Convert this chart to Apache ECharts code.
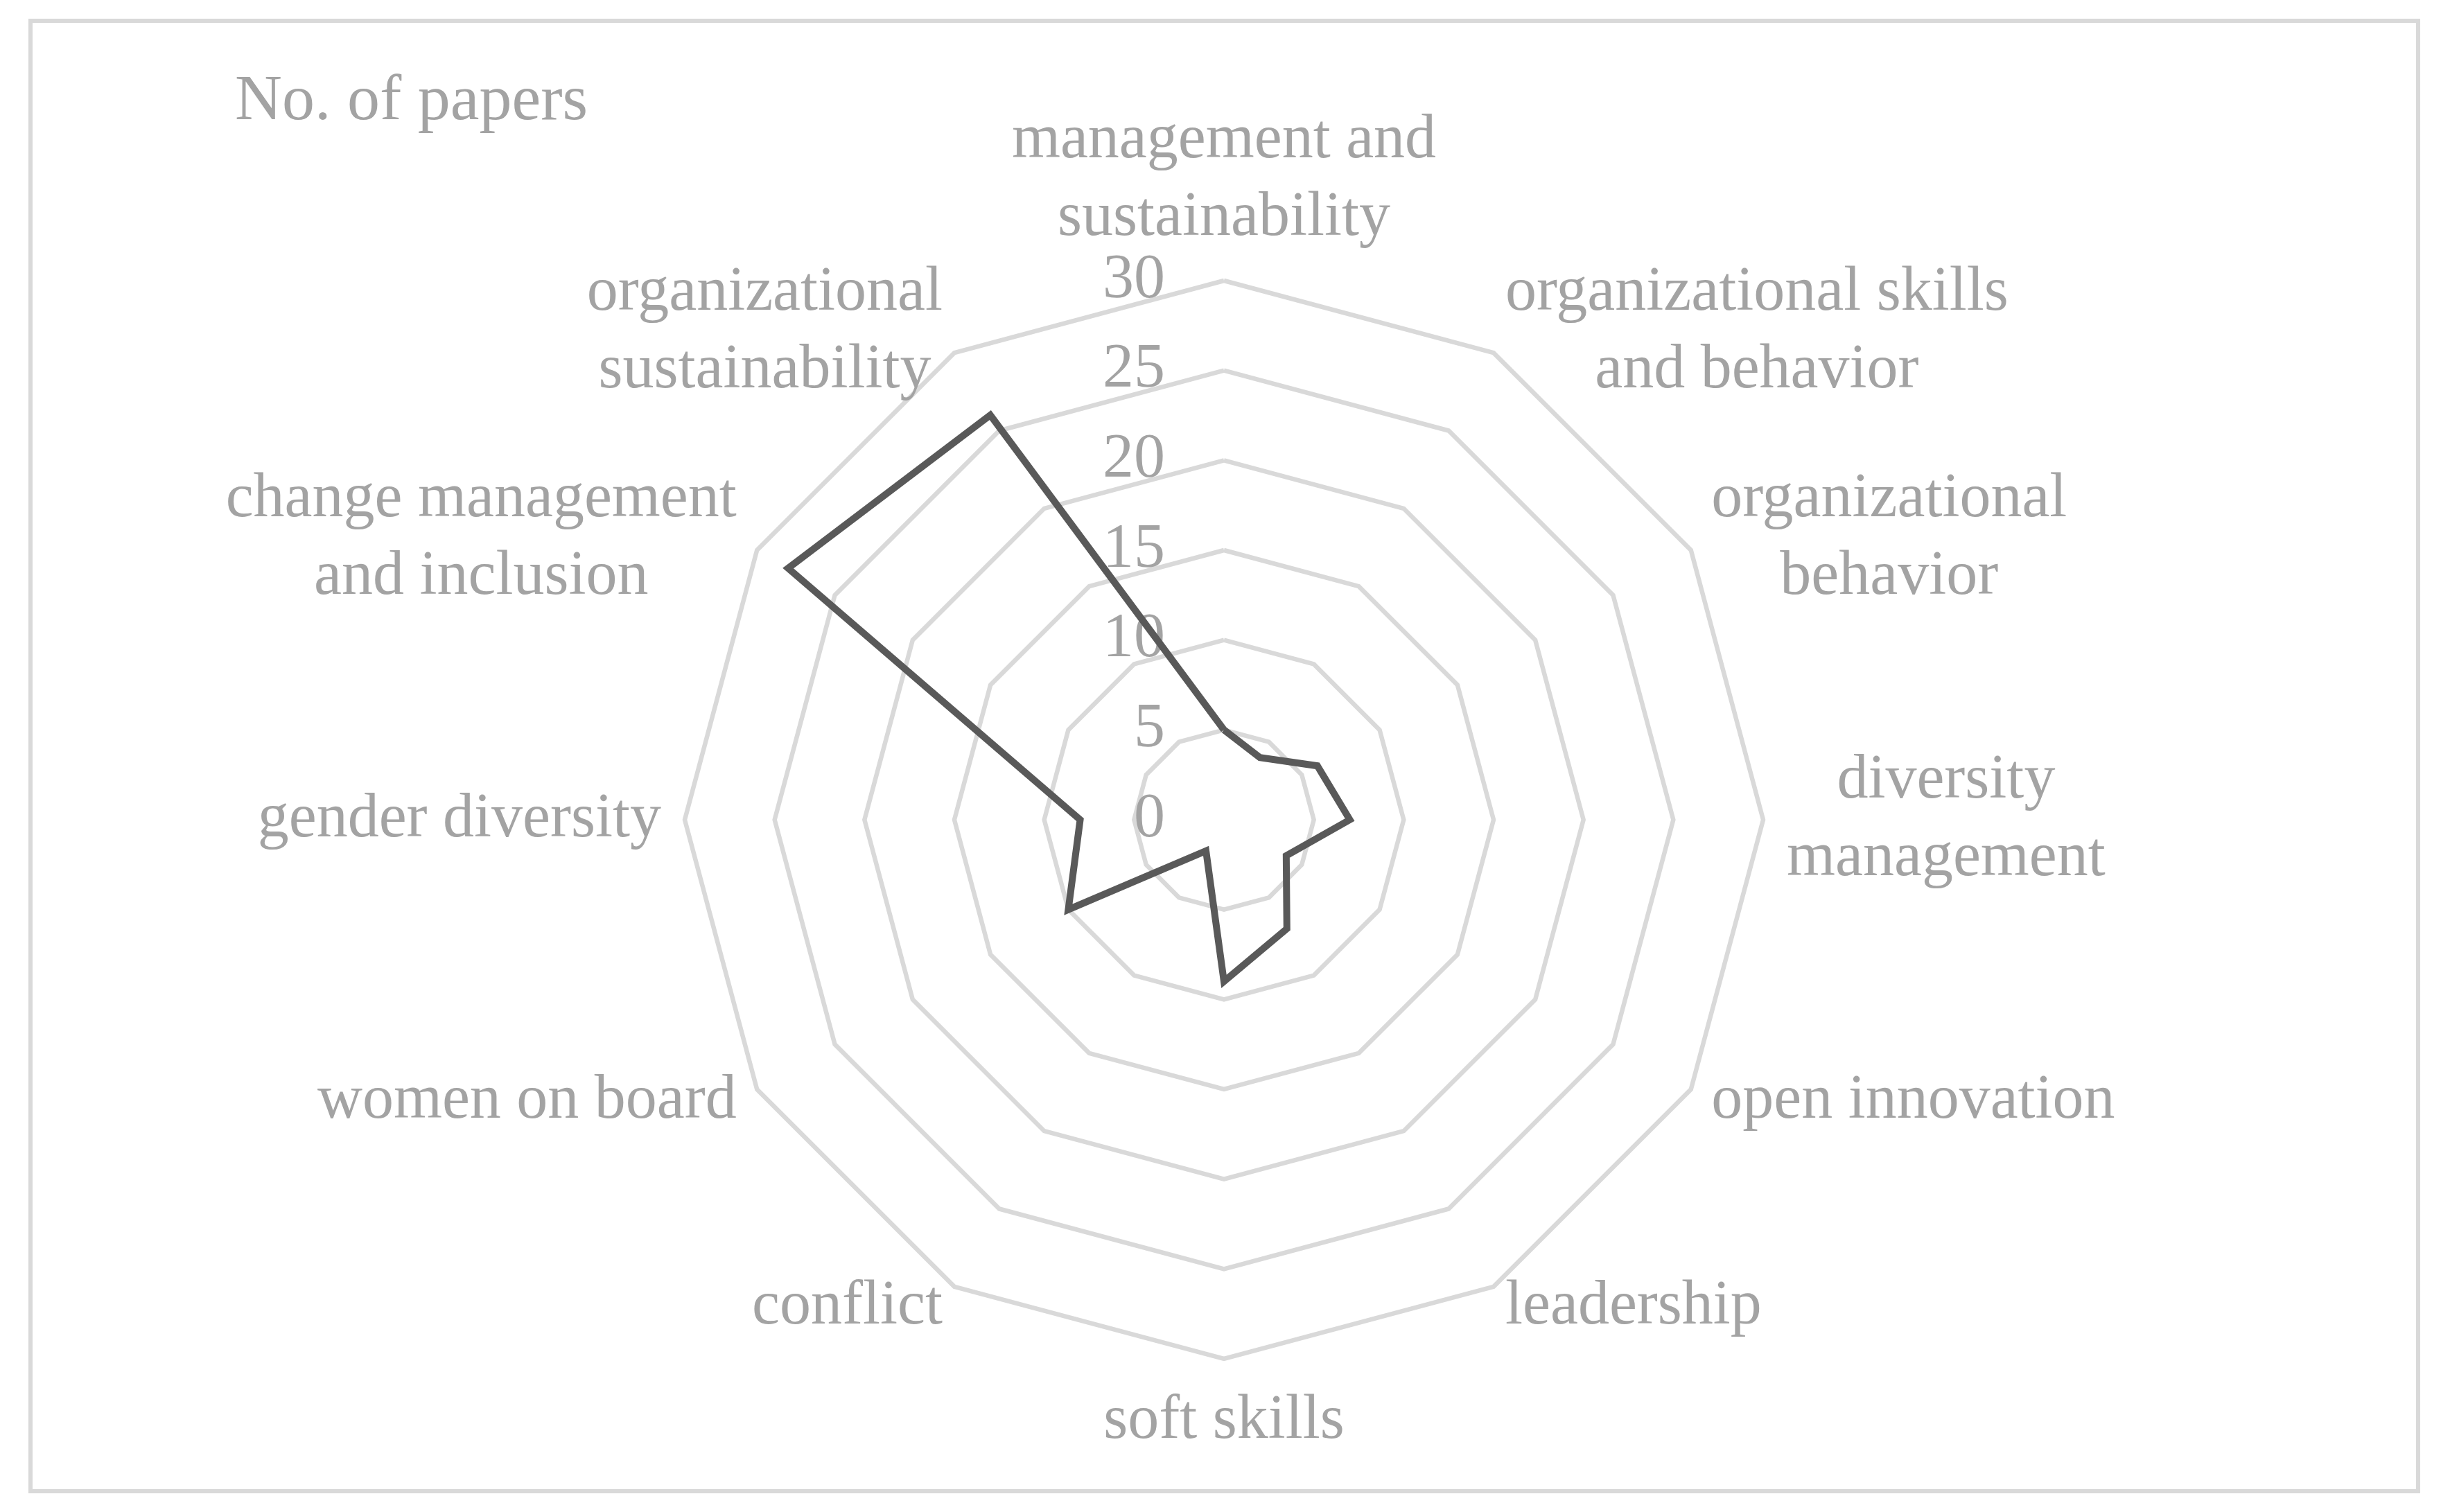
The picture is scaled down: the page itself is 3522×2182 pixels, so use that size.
<!DOCTYPE html>
<html>
<head>
<meta charset="utf-8">
<script src="https://cdn.jsdelivr.net/npm/echarts@6/dist/echarts.min.js"></script>
<style>
html,body{margin:0;padding:0;background:#fff;}
#chart{width:3522px;height:2182px;}
</style>
</head>
<body>
<div id="chart"></div>
<script>
// ---- data (listed clockwise from the top axis) ----
const categories = [
  'management and\nsustainability',
  'organizational skills\nand behavior',
  'organizational\nbehavior',
  'diversity\nmanagement',
  'open innovation',
  'leadership',
  'soft skills',
  'conflict',
  'women on board',
  'gender diversity',
  'change management\nand inclusion',
  'organizational\nsustainability'
];
const paperCounts = [5, 4, 6, 7, 4, 7, 9, 2, 10, 8, 28, 26];
const axisMin = 0;
const axisMax = 30;
const axisStep = 5;
const titleText = 'No. of papers';

// ---- styles ----
const FONT = '"Liberation Serif", "DejaVu Serif", serif';
const TEXT_COLOR = '#a3a3a3';
const GRID_COLOR = '#d9d9d9';
const LINE_COLOR = '#595959';
const FS = 90;

// ECharts lays radar indicators out counter-clockwise, so feed them in
// reversed order after the first one to get the clockwise arrangement.
const order = [0];
for (let i = categories.length - 1; i >= 1; i--) order.push(i);

const indicator = order.map((idx, k) => {
  const ind = {name: categories[idx], min: axisMin, max: axisMax};
  if (k === 0) ind.axisLabel = {show: true};
  return ind;
});
const orderedValues = order.map(idx => paperCounts[idx]);

const chart = echarts.init(document.getElementById('chart'), null, {renderer: 'canvas'});

chart.setOption({
  backgroundColor: '#ffffff',
  animation: false,
  title: {
    text: titleText,
    left: 334,
    top: 95,
    textStyle: {fontFamily: FONT, fontSize: FS + 4, fontWeight: 'normal', color: TEXT_COLOR}
  },
  graphic: [{
    type: 'rect',
    shape: {x: 44, y: 30, width: 3445, height: 2122},
    style: {fill: null, stroke: GRID_COLOR, lineWidth: 6},
    silent: true,
    z: -1
  }],
  radar: {
    center: [1766, 1183],
    radius: 778,
    startAngle: 90,
    shape: 'polygon',
    splitNumber: (axisMax - axisMin) / axisStep,
    axisNameGap: 34,
    axisName: {
      color: TEXT_COLOR,
      fontFamily: FONT,
      fontSize: FS,
      formatter: function (value) {
        return value.split('\n').map(s => '{a|' + s + '}').join('\n');
      },
      rich: {
        a: {align: 'center', fontFamily: FONT, fontSize: FS, color: TEXT_COLOR, lineHeight: 112}
      }
    },
    axisLine: {show: false},
    axisTick: {show: false},
    axisLabel: {
      show: false,
      color: TEXT_COLOR,
      fontFamily: FONT,
      fontSize: FS,
      margin: 85,
      showMinLabel: true,
      showMaxLabel: true
    },
    splitLine: {show: true, lineStyle: {color: GRID_COLOR, width: 6.5}},
    splitArea: {show: false},
    indicator: indicator
  },
  series: [{
    type: 'radar',
    symbol: 'none',
    lineStyle: {color: LINE_COLOR, width: 10, join: 'miter'},
    data: [{value: orderedValues, name: titleText}]
  }]
});
</script>
</body>
</html>
